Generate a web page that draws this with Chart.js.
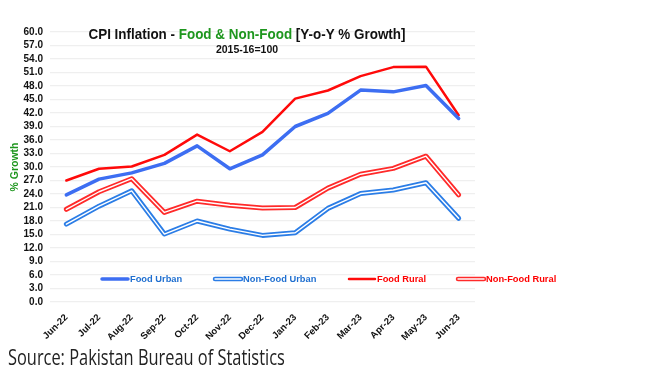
<!DOCTYPE html>
<html>
<head>
<meta charset="utf-8">
<script src="https://cdn.jsdelivr.net/npm/chart.js@4"></script>
<style>
  html, body { margin: 0; padding: 0; background: #fff; }
  #wrap { position: relative; width: 668px; height: 370px; }
  #source {
    position: absolute; left: 8px; top: 343px;
    font: 21px "Open Sans", "Noto Sans", sans-serif; color: #222;
    transform: scaleX(0.78); transform-origin: left top; white-space: nowrap;
  }
</style>
</head>
<body>
<div id="wrap">
  <canvas id="myChart" width="668" height="370"></canvas>
  <div id="source">Source: Pakistan Bureau of Statistics</div>
</div>
<script>
const months = ["Jun-22", "Jul-22", "Aug-22", "Sep-22", "Oct-22", "Nov-22", "Dec-22",
  "Jan-23", "Feb-23", "Mar-23", "Apr-23", "May-23", "Jun-23"];

const foodUrban    = [23.8, 27.3, 28.7, 30.8, 34.7, 29.6, 32.7, 39.0, 41.9, 47.1, 46.7, 48.1, 40.8];
const nonFoodUrban = [17.3, 21.3, 24.7, 15.1, 18.0, 16.2, 14.8, 15.4, 20.8, 24.1, 24.9, 26.5, 18.6];
const foodRural    = [27.0, 29.6, 30.1, 32.7, 37.2, 33.5, 37.8, 45.2, 47.0, 50.2, 52.2, 52.3, 41.5];
const nonFoodRural = [20.6, 24.5, 27.4, 19.9, 22.4, 21.5, 20.9, 21.0, 25.3, 28.4, 29.7, 32.4, 23.8];

const yMin = 0, yMax = 60, yStep = 3;

const BLUE = "#3d6ef2";
const BLUE2 = "#2b7de6";
const RED = "#ff0a0a";
const RED2 = "#ff2a2a";
const FONT = "'Liberation Sans', Arial, sans-serif";

// legend entries (drawn by hand inside the plot, like the original)
const legendItems = [
  { text: "Food Urban", color: BLUE, textColor: "#1f6fd0", double: false, width: 3.5, x: 102 },
  { text: "Non-Food Urban", color: BLUE2, textColor: "#1f6fd0", double: true, x: 215 },
  { text: "Food Rural", color: RED, textColor: "#f00", double: false, width: 2.5, x: 349 },
  { text: "Non-Food Rural", color: RED2, textColor: "#f00", double: true, x: 458 }
];

function line(data, color, width, order) {
  return {
    data: data, borderColor: color, borderWidth: width, order: order,
    pointRadius: 0, pointHoverRadius: 0, tension: 0, fill: false,
    borderCapStyle: "round", borderJoinStyle: "round"
  };
}

const extras = {
  id: "extras",
  afterDraw(chart) {
    const ctx = chart.ctx;
    ctx.save();
    // title, mixed colours
    const parts = [
      ["CPI Inflation - ", "#111"],
      ["Food & Non-Food", "#1e961e"],
      [" [Y-o-Y % Growth]", "#111"]
    ];
    ctx.font = "bold 15.5px " + FONT;
    ctx.textBaseline = "alphabetic";
    ctx.textAlign = "left";
    let full = 0;
    parts.forEach(p => full += ctx.measureText(p[0]).width);
    const target = 317;
    const sx = target / full;
    ctx.translate(247 - target / 2, 39);
    ctx.scale(sx, 1);
    let x = 0;
    parts.forEach(p => {
      ctx.fillStyle = p[1];
      ctx.fillText(p[0], x, 0);
      x += ctx.measureText(p[0]).width;
    });
    ctx.restore();

    ctx.save();
    ctx.font = "bold 10.5px " + FONT;
    ctx.fillStyle = "#111";
    ctx.textAlign = "center";
    ctx.fillText("2015-16=100", 247, 53);

    // legend
    const ly = 279;
    ctx.font = "bold 9.3px " + FONT;
    ctx.textAlign = "left";
    ctx.textBaseline = "middle";
    legendItems.forEach(it => {
      ctx.lineCap = "round";
      ctx.beginPath();
      ctx.moveTo(it.x, ly);
      ctx.lineTo(it.x + 26, ly);
      ctx.strokeStyle = it.color;
      ctx.lineWidth = it.double ? 4.5 : it.width;
      ctx.stroke();
      if (it.double) {
        ctx.beginPath();
        ctx.moveTo(it.x, ly);
        ctx.lineTo(it.x + 26, ly);
        ctx.strokeStyle = "#fff";
        ctx.lineWidth = 1.3;
        ctx.stroke();
      }
      ctx.fillStyle = it.textColor;
      ctx.fillText(it.text, it.x + 28, ly + 0.5);
    });
    ctx.restore();
  }
};

const ctx = document.getElementById("myChart").getContext("2d");
const chart = new Chart(ctx, {
  type: "line",
  data: {
    labels: months,
    datasets: [
      line(nonFoodUrban, "#fff", 1.4, 0),
      line(nonFoodRural, "#fff", 1.4, 0),
      line(nonFoodUrban, BLUE2, 5, 1),
      line(nonFoodRural, RED2, 5, 1),
      line(foodUrban, BLUE, 3.5, 2),
      line(foodRural, RED, 2.5, 2)
    ]
  },
  options: {
    responsive: false,
    animation: false,
    layout: { padding: { top: 32, right: 193, left: 0, bottom: 0 } },
    plugins: {
      legend: { display: false },
      tooltip: { enabled: false },
      title: { display: false }
    },
    scales: {
      x: {
        offset: true,
        grid: { display: false, drawTicks: false },
        border: { display: false },
        ticks: {
          minRotation: 45, maxRotation: 45, padding: 10,
          autoSkip: false, color: "#111",
          font: { family: FONT, size: 9.5, weight: "bold" }
        },
        afterFit(scale) { scale.height = 68; }
      },
      y: {
        min: yMin, max: yMax,
        grid: { color: "#efefef", lineWidth: 1.2, drawTicks: false },
        border: { display: false },
        ticks: {
          stepSize: yStep, padding: 7, color: "#111", autoSkip: false,
          font: { family: FONT, size: 10, weight: "bold" },
          callback: v => v.toFixed(1)
        },
        title: {
          display: true, text: "% Growth", color: "#1e961e",
          padding: { top: 9, bottom: 0 },
          font: { family: FONT, size: 10.5, weight: "bold" }
        },
        afterFit(scale) { scale.width = 50; }
      }
    }
  },
  plugins: [extras]
});
</script>
</body>
</html>
